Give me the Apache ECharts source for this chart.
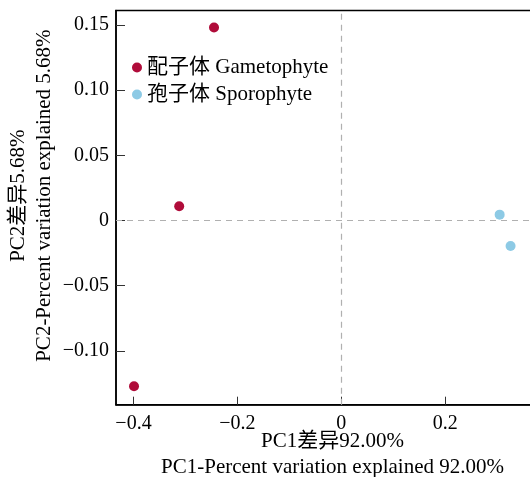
<!DOCTYPE html>
<html>
<head>
<meta charset="utf-8">
<script src="https://cdn.jsdelivr.net/npm/echarts@6/dist/echarts.min.js"></script>
<style>
  html, body { margin: 0; padding: 0; background: #fff; }
  #chart { width: 530px; height: 477px; }
</style>
</head>
<body>
<div id="chart"></div>
<script>
// PCA scores: [PC1, PC2]
const gametophyte = [[-0.245, 0.148], [-0.312, 0.011], [-0.399, -0.127]];
const sporophyte = [[0.305, 0.0045], [0.326, -0.0195]];
const seriesNames = ['配子体 Gametophyte', '孢子体 Sporophyte'];
const xTicks = [-0.4, -0.2, 0, 0.2, 0.4];
const yTicks = [-0.10, -0.05, 0, 0.05, 0.10, 0.15];
const xTitle = 'PC1差异92.00%\nPC1-Percent variation explained 92.00%';
const yTitle = 'PC2差异5.68%\nPC2-Percent variation explained 5.68%';

const FONT = "'Liberation Serif', 'Times New Roman', 'Noto Sans CJK SC', serif";
const chart = echarts.init(document.getElementById('chart'), null, { renderer: 'canvas' });

const fmt = d => v => (Math.abs(v) < 1e-9 ? '0' : v.toFixed(d).replace('-', '\u2212'));

const axisCommon = {
  axisLine: { show: true, onZero: false, lineStyle: { color: '#000', width: 1.5 } },
  splitLine: { show: false },
  nameMoveOverlap: false
};
const nameStyle = { color: '#000', fontSize: 21, fontFamily: FONT, lineHeight: 26 };

chart.setOption({
  animation: false,
  grid: {
    left: 116, top: 10.5, right: -19, bottom: 72.3,
    outerBoundsMode: 'none', containLabel: false,
    show: true, borderColor: '#000', borderWidth: 1.5
  },
  legend: {
    orient: 'vertical', left: 127, top: 52,
    itemWidth: 10, itemHeight: 10, itemGap: 6,
    icon: 'circle',
    textStyle: { color: '#000', fontSize: 21, fontFamily: FONT },
    data: seriesNames
  },
  xAxis: Object.assign({}, axisCommon, {
    type: 'value', min: -0.4337, max: 0.4,
    name: xTitle, nameLocation: 'middle', nameGap: 24,
    nameTextStyle: nameStyle,
    axisTick: { show: true, inside: true, length: 8, customValues: xTicks, lineStyle: { color: '#333', width: 1 } },
    axisLabel: { color: '#000', fontSize: 20, fontFamily: FONT, margin: 9, customValues: xTicks, formatter: fmt(1) }
  }),
  yAxis: Object.assign({}, axisCommon, {
    type: 'value', min: -0.1412, max: 0.161,
    name: yTitle, nameLocation: 'middle', nameGap: 59,
    nameTextStyle: Object.assign({}, nameStyle, { padding: [0, 0, 0, 24] }),
    axisTick: { show: true, inside: true, length: 9, customValues: yTicks, lineStyle: { color: '#333', width: 1 } },
    axisLabel: { color: '#000', fontSize: 20, fontFamily: FONT, margin: 7, customValues: yTicks, formatter: fmt(2) }
  }),
  series: [
    {
      name: seriesNames[0], type: 'scatter', data: gametophyte,
      symbolSize: 10, itemStyle: { color: '#B00C3A', opacity: 1 },
      markLine: {
        silent: true, symbol: 'none', label: { show: false },
        lineStyle: { color: '#b0b0b0', type: [6, 5], width: 1.2 },
        data: [{ xAxis: 0 }, { yAxis: 0 }]
      },
      z: 3
    },
    {
      name: seriesNames[1], type: 'scatter', data: sporophyte,
      symbolSize: 10, itemStyle: { color: '#8DCAE5', opacity: 1 }, z: 3
    }
  ]
});
</script>
</body>
</html>
